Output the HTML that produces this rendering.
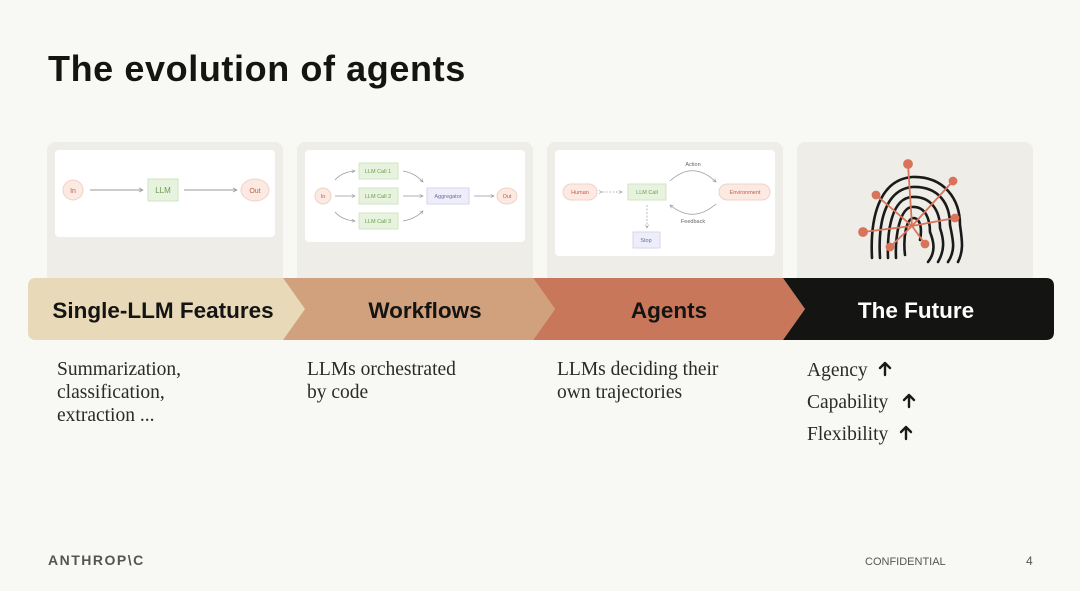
<!DOCTYPE html>
<html><head><meta charset="utf-8"><style>
html,body{margin:0;padding:0;background:#f8f8f4;}
body{width:1080px;height:591px;overflow:hidden;}
svg{display:block}
.sans{font-family:"Liberation Sans",sans-serif}
.serif{font-family:"Liberation Serif",serif}
</style></head><body>
<svg width="1080" height="591" viewBox="0 0 1080 591" xmlns="http://www.w3.org/2000/svg">
<defs>
<marker id="a" viewBox="0 0 10 10" refX="9" refY="5" markerWidth="5" markerHeight="5" orient="auto"><path d="M1 1L9 5L1 9" fill="none" stroke="#999" stroke-width="1.5"/></marker>
</defs>
<rect width="1080" height="591" fill="#f8f8f4"/>
<text x="48" y="81" class="sans" font-size="36" font-weight="bold" letter-spacing="0.6" fill="#141413">The evolution of agents</text>
<!-- cards -->
<rect x="47" y="142" width="236" height="150" rx="8" fill="#eeede8"/>
<rect x="297" y="142" width="236" height="150" rx="8" fill="#eeede8"/>
<rect x="547" y="142" width="236" height="150" rx="8" fill="#eeede8"/>
<rect x="797" y="142" width="236" height="150" rx="8" fill="#eeede8"/>
<rect x="55" y="150" width="220" height="87" rx="4" fill="#fff"/>
<rect x="305" y="150" width="220" height="92" rx="4" fill="#fff"/>
<rect x="555" y="150" width="220" height="106" rx="4" fill="#fff"/>
<g class="sans" font-size="7" text-anchor="middle">
<ellipse cx="73" cy="190" rx="10" ry="10" fill="#fbe9e2" stroke="#f0d2c6"/>
<text x="73" y="193" fill="#c0604a">In</text>
<line x1="90" y1="190" x2="143" y2="190" stroke="#999" marker-end="url(#a)"/>
<rect x="148" y="179" width="30" height="22" fill="#e8f3df" stroke="#d0e5c2"/>
<text x="163" y="193" fill="#6a9c4c" font-size="8">LLM</text>
<line x1="184" y1="190" x2="237" y2="190" stroke="#999" marker-end="url(#a)"/>
<ellipse cx="255" cy="190" rx="14" ry="11" fill="#fbe9e2" stroke="#f0d2c6"/>
<text x="255" y="193" fill="#c0604a">Out</text>
<g font-size="5.5">
<ellipse cx="323" cy="196" rx="8" ry="8" fill="#fbe9e2" stroke="#f0d2c6"/>
<text x="323" y="198" fill="#c0604a">In</text>
<path d="M335 180 Q342 172 355 171" fill="none" stroke="#999" stroke-width=".8" marker-end="url(#a)"/>
<line x1="335" y1="196" x2="355" y2="196" stroke="#999" stroke-width=".8" marker-end="url(#a)"/>
<path d="M335 212 Q342 220 355 221" fill="none" stroke="#999" stroke-width=".8" marker-end="url(#a)"/>
<rect x="359" y="163" width="39" height="16" fill="#e8f3df" stroke="#d0e5c2"/><text x="378" y="173" fill="#6a9c4c">LLM Call 1</text>
<rect x="359" y="188" width="39" height="16" fill="#e8f3df" stroke="#d0e5c2"/><text x="378" y="198" fill="#6a9c4c">LLM Call 2</text>
<rect x="359" y="213" width="39" height="16" fill="#e8f3df" stroke="#d0e5c2"/><text x="378" y="223" fill="#6a9c4c">LLM Call 3</text>
<path d="M403 171 Q415 173 423 182" fill="none" stroke="#999" stroke-width=".8" marker-end="url(#a)"/>
<line x1="403" y1="196" x2="423" y2="196" stroke="#999" stroke-width=".8" marker-end="url(#a)"/>
<path d="M403 221 Q415 219 423 211" fill="none" stroke="#999" stroke-width=".8" marker-end="url(#a)"/>
<rect x="427" y="188" width="42" height="16" fill="#eeeefa" stroke="#d6d6ee"/><text x="448" y="198" fill="#6a6aa8">Aggregator</text>
<line x1="474" y1="196" x2="494" y2="196" stroke="#999" stroke-width=".8" marker-end="url(#a)"/>
<ellipse cx="507" cy="196" rx="10" ry="8" fill="#fbe9e2" stroke="#f0d2c6"/><text x="507" y="198" fill="#c0604a">Out</text>
</g>
<g font-size="5.5">
<rect x="563" y="184" width="34" height="16" rx="8" fill="#fbe9e2" stroke="#f0d2c6"/><text x="580" y="194" fill="#c0604a">Human</text>
<line x1="602" y1="192" x2="622" y2="192" stroke="#aaa" stroke-width=".8" stroke-dasharray="2 1.5" marker-end="url(#a)" marker-start="url(#a)"/>
<rect x="628" y="184" width="38" height="16" fill="#e8f3df" stroke="#d0e5c2"/><text x="647" y="194" fill="#6a9c4c">LLM Call</text>
<rect x="719" y="184" width="51" height="16" rx="8" fill="#fbe9e2" stroke="#f0d2c6"/><text x="745" y="194" fill="#c0604a">Environment</text>
<path d="M670 181 Q693 160 716 182" fill="none" stroke="#999" stroke-width=".8" marker-end="url(#a)"/>
<path d="M716 204 Q693 224 670 205" fill="none" stroke="#999" stroke-width=".8" marker-end="url(#a)"/>
<text x="693" y="166" fill="#666">Action</text>
<text x="693" y="223" fill="#666">Feedback</text>
<line x1="647" y1="205" x2="647" y2="228" stroke="#aaa" stroke-width=".8" stroke-dasharray="2 1.5" marker-end="url(#a)"/>
<rect x="633" y="232" width="27" height="16" fill="#eeeefa" stroke="#d6d6ee"/><text x="646" y="242" fill="#6a6aa8">Stop</text>
</g>
</g>
<g fill="none" stroke="#1a1a1a" stroke-width="2.6" stroke-linecap="round">
<path d="M872 258 C870 220 878 180 912 177 C945 176 960 200 960 225 C962 240 964 250 958 262"/>
<path d="M880 258 C878 225 884 190 912 187 C940 186 950 205 950 225 C953 240 956 250 948 262"/>
<path d="M888 258 C887 230 892 198 912 197 C932 196 940 212 940 228 C944 240 945 250 938 262"/>
<path d="M896 258 C895 235 900 208 912 207 C926 206 930 220 930 232 C934 242 936 252 928 262"/>
<path d="M905 255 C903 238 906 218 914 218 C921 219 922 230 920 240"/>
</g>
<g stroke="#d9735a" stroke-width="1.8" fill="#d9735a">
<line x1="912" y1="226" x2="908" y2="164"/><circle cx="908" cy="164" r="4"/>
<line x1="912" y1="226" x2="953" y2="181"/><circle cx="953" cy="181" r="3.5"/>
<line x1="912" y1="226" x2="876" y2="195"/><circle cx="876" cy="195" r="3.5"/>
<line x1="912" y1="226" x2="863" y2="232"/><circle cx="863" cy="232" r="4"/>
<line x1="912" y1="226" x2="955" y2="218"/><circle cx="955" cy="218" r="3.5"/>
<line x1="912" y1="226" x2="890" y2="247"/><circle cx="890" cy="247" r="3.5"/>
<line x1="912" y1="226" x2="925" y2="244"/><circle cx="925" cy="244" r="3.5"/>
</g>
<path d="M36 278 H283 L305 309 L283 340 H36 Q28 340 28 332 V286 Q28 278 36 278Z" fill="#e8d9b8"/>
<path d="M283 278 H533 L555 309 L533 340 H283 L305 309Z" fill="#d1a07c"/>
<path d="M533 278 H783 L805 309 L783 340 H533 L555 309Z" fill="#c9775a"/>
<path d="M783 278 H1046 Q1054 278 1054 286 V332 Q1054 340 1046 340 H783 L805 309Z" fill="#141413"/>
<g class="sans" font-size="22.5" font-weight="bold" text-anchor="middle">
<text x="163" y="318" fill="#141413">Single-LLM Features</text>
<text x="425" y="318" fill="#141413">Workflows</text>
<text x="669" y="318" fill="#141413">Agents</text>
<text x="916" y="318" fill="#fff">The Future</text>
</g>
<g class="serif" font-size="19.5" fill="#2a2a28">
<text x="57" y="375">Summarization,</text>
<text x="57" y="398">classification,</text>
<text x="57" y="421">extraction ...</text>
<text x="307" y="375">LLMs orchestrated</text>
<text x="307" y="398">by code</text>
<text x="557" y="375">LLMs deciding their</text>
<text x="557" y="398">own trajectories</text>
</g>
<g class="serif" font-size="19.5" fill="#2a2a28">
<text x="807" y="376">Agency</text>
<text x="807" y="408">Capability</text>
<text x="807" y="440">Flexibility</text>
</g>
<g stroke="#1a1a1a" stroke-width="2.4" fill="none" stroke-linecap="round" stroke-linejoin="round">
<path d="M885 375 V363 M880 368 L885 363 L890 368"/>
<path d="M909 407 V395 M904 400 L909 395 L914 400"/>
<path d="M906 439 V427 M901 432 L906 427 L911 432"/>
</g>
<text x="48" y="565" class="sans" font-size="14" font-weight="bold" letter-spacing="1.5" fill="#555">ANTHROP\C</text>
<text x="865" y="565" class="sans" font-size="11" fill="#555">CONFIDENTIAL</text>
<text x="1026" y="565" class="sans" font-size="12" fill="#555">4</text>
</svg>
</body></html>
